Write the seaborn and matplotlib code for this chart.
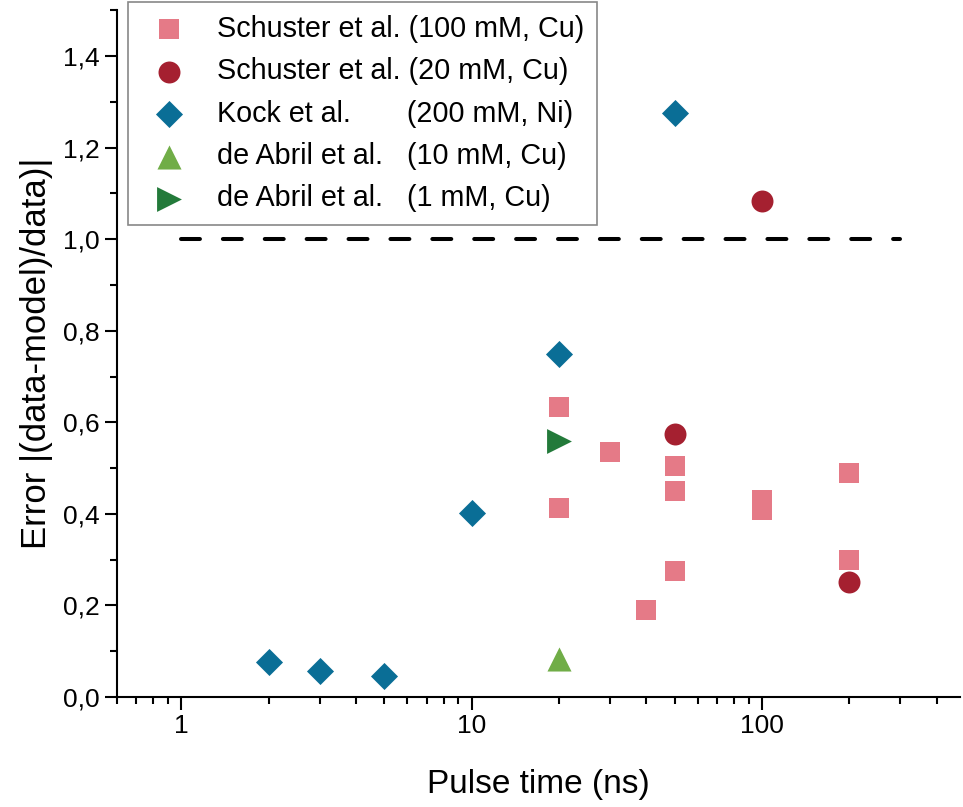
import numpy as np
import pandas as pd
import matplotlib
matplotlib.use("Agg")
import matplotlib.pyplot as plt
import matplotlib.ticker as mticker
import seaborn as sns

# --------------------------
# DATA
# --------------------------
schuster100_x = [20, 20, 30, 40, 50, 50, 50, 100, 100, 200, 200]
schuster100_y = [0.633, 0.413, 0.535, 0.19, 0.505, 0.45, 0.275, 0.43, 0.408, 0.49, 0.30]

schuster20_x = [50, 100, 200]
schuster20_y = [0.575, 1.083, 0.251]

kock_x = [2, 3, 5, 10, 20, 50]
kock_y = [0.076, 0.056, 0.045, 0.402, 0.75, 1.275]

abril10_x = [20]
abril10_y = [0.083]

abril1_x = [20]
abril1_y = [0.559]

ref_x = [1, 300]
ref_y = [1.0, 1.0]

labels = [
    "Schuster et al. (100 mM, Cu)",
    "Schuster et al. (20 mM, Cu)",
    "Kock et al.       (200 mM, Ni)",
    "de Abril et al.   (10 mM, Cu)",
    "de Abril et al.   (1 mM, Cu)",
]
colors = ["#E57A87", "#A52030", "#0A6E96", "#70AD47", "#237A3A"]
markers = ["s", "o", "D", "^", ">"]
sizes = [210, 250, 190, 300, 320]

series = [
    (schuster100_x, schuster100_y),
    (schuster20_x, schuster20_y),
    (kock_x, kock_y),
    (abril10_x, abril10_y),
    (abril1_x, abril1_y),
]

# --------------------------
# PLOT
# --------------------------
sns.set_style("ticks")
plt.rcParams["font.family"] = ["Liberation Sans", "DejaVu Sans"]

fig = plt.figure(figsize=(9.63, 8.07), dpi=100)
ax = fig.add_axes([0.1215, 0.1363, 0.875, 0.851])

for (xs, ys), lab, c, m, s in zip(series, labels, colors, markers, sizes):
    df = pd.DataFrame({"x": xs, "y": ys})
    sns.scatterplot(data=df, x="x", y="y", ax=ax, color=c, marker=m, s=s,
                    linewidth=0, label=lab, zorder=3)

ax.plot(ref_x, ref_y, color="black", lw=2.9, linestyle=(0, (4.7, 5.7)),
        dash_capstyle="round", zorder=2)

ax.set_xscale("log")
ax.set_xlim(0.6, 480)
ax.set_ylim(0, 1.5)

ax.xaxis.set_major_locator(mticker.FixedLocator([1, 10, 100]))
ax.xaxis.set_major_formatter(mticker.FuncFormatter(lambda v, p: f"{v:g}"))
ax.xaxis.set_minor_locator(mticker.LogLocator(base=10, subs=np.arange(2, 10), numticks=20))
ax.xaxis.set_minor_formatter(mticker.NullFormatter())

ax.yaxis.set_major_locator(mticker.MultipleLocator(0.2))
ax.yaxis.set_minor_locator(mticker.MultipleLocator(0.1))
ax.yaxis.set_major_formatter(mticker.FuncFormatter(lambda v, p: f"{v:.1f}".replace(".", ",")))

ax.tick_params(which="major", direction="out", length=9, width=1.5, labelsize=19,
               colors="black", labelcolor="black")
ax.tick_params(which="minor", direction="out", length=5, width=1.5, colors="black")

for side in ["top", "right"]:
    ax.spines[side].set_visible(False)
for side in ["left", "bottom"]:
    ax.spines[side].set_linewidth(1.5)
    ax.spines[side].set_color("black")

ax.set_xlabel("Pulse time (ns)", fontsize=24, labelpad=22, color="black")
ax.set_ylabel("Error |(data-model)/data)|", fontsize=25, labelpad=7, color="black")

leg = ax.legend(loc="upper left", bbox_to_anchor=(128 / 963, 1 - 2 / 807),
                bbox_transform=fig.transFigure, fontsize=20.7, frameon=True,
                fancybox=False, framealpha=1, handlelength=1.95, handletextpad=0.7,
                labelspacing=0.5, borderpad=0.45, borderaxespad=0)
leg.get_frame().set_edgecolor("#888888")
leg.get_frame().set_linewidth(1.2)
for t in leg.get_texts():
    t.set_color("black")

plt.savefig("out.png", dpi=100)
